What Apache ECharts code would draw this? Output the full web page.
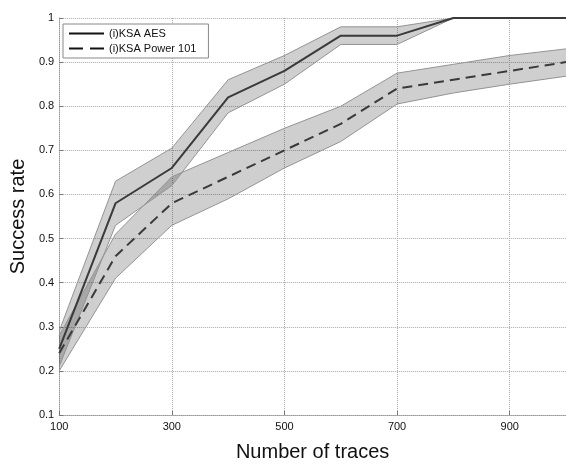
<!DOCTYPE html>
<html>
<head>
<meta charset="utf-8">
<script src="https://cdn.jsdelivr.net/npm/echarts@6/dist/echarts.min.js"></script>
<style>
html,body{margin:0;padding:0;background:#fff;}
#chart{width:566px;height:467px;}
</style>
</head>
<body>
<div id="chart"></div>
<script>
var traces = [100, 200, 300, 400, 500, 600, 700, 800, 900, 1000];
var aesMean  = [0.25, 0.58, 0.66, 0.82, 0.88, 0.96, 0.96, 1.00, 1.00, 1.00];
var aesUpper = [0.29, 0.63, 0.705, 0.86, 0.915, 0.98, 0.98, 1.00, 1.00, 1.00];
var aesLower = [0.21, 0.53, 0.62, 0.785, 0.85, 0.94, 0.94, 1.00, 1.00, 1.00];
var powMean  = [0.24, 0.46, 0.58, 0.64, 0.70, 0.76, 0.84, 0.86, 0.88, 0.90];
var powUpper = [0.28, 0.51, 0.64, 0.695, 0.75, 0.80, 0.875, 0.895, 0.915, 0.93];
var powLower = [0.20, 0.41, 0.53, 0.59, 0.66, 0.72, 0.805, 0.83, 0.85, 0.868];
var seriesNames = ['(i)KSA AES', '(i)KSA Power 101'];

function pairs(vals) { return traces.map(function (t, i) { return [t, vals[i]]; }); }

var font = 'Liberation Sans, Arial, sans-serif';
var edge = { color: '#939393', width: 1 };

function band(id, up, lo) {
  var data = traces.map(function (t, i) { return [t, lo[i], up[i]]; });
  return [
    { name: id + 'fill', type: 'custom', data: data, silent: true, z: 1,
      encode: { x: 0, y: [1, 2] },
      renderItem: function (params, api) {
        var i = params.dataIndex;
        if (i >= data.length - 1) return null;
        var a = data[i], b = data[i + 1];
        var pts = [
          api.coord([a[0], a[1]]), api.coord([b[0], b[1]]),
          api.coord([b[0], b[2]]), api.coord([a[0], a[2]])
        ];
        return { type: 'polygon', shape: { points: pts },
          style: { fill: 'rgba(0,0,0,0.19)', stroke: null } };
      } },
    { name: id + 'lo', type: 'line', data: pairs(lo), symbol: 'none', lineStyle: edge, silent: true, z: 2 },
    { name: id + 'hi', type: 'line', data: pairs(up), symbol: 'none', lineStyle: edge, silent: true, z: 2 }
  ];
}

var chart = echarts.init(document.getElementById('chart'), null, { renderer: 'canvas' });
chart.setOption({
  animation: false,
  backgroundColor: '#fff',
  grid: { left: 57, right: -5, top: 18, bottom: 42 },
  legend: {
    data: [
      { name: seriesNames[0], lineStyle: { color: '#111', width: 2, type: 'solid' } },
      { name: seriesNames[1], lineStyle: { color: '#111', width: 2, type: [14, 7] } }
    ],
    orient: 'vertical',
    left: 63, top: 24,
    padding: [4, 12, 4, 5],
    itemGap: 4,
    itemWidth: 35, itemHeight: 12,
    backgroundColor: '#fff',
    borderColor: '#888', borderWidth: 1, borderRadius: 0,
    itemStyle: { opacity: 0 },
    textStyle: { fontFamily: font, fontSize: 11, color: '#111', padding: [0, 0, 0, 0] }
  },
  xAxis: {
    type: 'value', min: 100, max: 1000, interval: 200,
    name: 'Number of traces', nameLocation: 'middle', nameGap: 27,
    nameTextStyle: { fontFamily: font, fontSize: 20, color: '#111' },
    axisLine: { show: true, lineStyle: { color: '#999', type: 'dotted' } },
    axisTick: { show: true, inside: true, length: 4, lineStyle: { color: '#777' } },
    axisLabel: { fontFamily: font, fontSize: 11, color: '#111', margin: 6, showMaxLabel: false },
    splitLine: { show: true, lineStyle: { color: '#aaa', type: 'dotted' } }
  },
  yAxis: {
    type: 'value', min: 0.1, max: 1, interval: 0.1,
    name: 'Success rate', nameLocation: 'middle', nameGap: 29,
    nameTextStyle: { fontFamily: font, fontSize: 20, color: '#111' },
    axisLine: { show: true, lineStyle: { color: '#999', type: 'dotted' } },
    axisTick: { show: true, inside: true, length: 4, lineStyle: { color: '#777' } },
    axisLabel: { fontFamily: font, fontSize: 11, color: '#111', margin: 5,
      formatter: function (v) { return String(+v.toFixed(2)); } },
    splitLine: { show: true, lineStyle: { color: '#aaa', type: 'dotted' } }
  },
  series: [].concat(
    band('aes', aesUpper, aesLower),
    band('pow', powUpper, powLower),
    [
      { name: seriesNames[0], type: 'line', data: pairs(aesMean), symbol: 'none', z: 3,
        color: '#3a3a3a', lineStyle: { color: '#3a3a3a', width: 2 } },
      { name: seriesNames[1], type: 'line', data: pairs(powMean), symbol: 'none', z: 3,
        color: '#3a3a3a', lineStyle: { color: '#3a3a3a', width: 2, type: [10, 6] } }
    ]
  )
});
</script>
</body>
</html>
